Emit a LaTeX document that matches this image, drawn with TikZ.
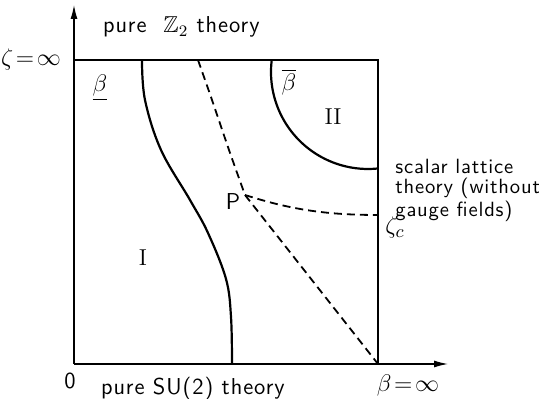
\documentclass[tikz,border=0pt]{standalone}
\usepackage{amsmath,amssymb}
\usepackage{fontspec}
\setsansfont{Latin Modern Sans}[LetterSpace=4]
\usetikzlibrary{arrows.meta}

\begin{document}
\begin{tikzpicture}[every node/.style={font=\fontsize{11.5}{13}\selectfont\sffamily}, x=0.5pt, y=0.5pt,
	line/.style={line width=1.1pt}, crossover/.style={line width=0.9pt, dash pattern=on 4pt off 2.5pt}]
	\useasboundingbox (-74,-35) rectangle (465,364);
	% axes and frame
	\draw[line width=0.6pt, -{Latex[length=7pt, width=3.5pt]}] (0,0) -- (374,0);
	\draw[line width=0.6pt, -{Latex[length=7pt, width=3.5pt]}] (0,0) -- (0,359);
	\draw[line width=0.6pt] (0,304) -- (304,304) -- (304,0);
	% phase boundaries
	\draw[line] plot[smooth, tension=0.6] coordinates {(68,304) (71,264) (87,214) (116,164) (134,131) (152,85) (157,47) (158,0)};
	\draw[line] (294,292) ++(173:97) arc[start angle=173, end angle=276, radius=97];
	\coordinate (P) at (171,169);
	\draw[crossover] plot[smooth, tension=0.6] coordinates {(124,304) (138,264) (155,214) (P)};
	\draw[crossover] (P) -- (304,0);
	\draw[crossover] (P) .. controls (215,155) and (250,149) .. (304,149);
	% labels
	\node[anchor=west] (ztwo) at (22,337) {pure \ $\mathbb{Z}_2$ theory};
	\node[anchor=east, font=\fontsize{12.5}{14}\selectfont] (zinf) at (-6,304) {$\zeta\!=\!\infty$};
	\node (orig) at (-4,-17) {0};
	\node[anchor=west] (su2) at (20,-25) {pure SU(2) theory};
	\node[font=\fontsize{12.5}{14}\selectfont] (binf) at (334,-22) {$\beta\!=\!\infty$};
	\node[font=\fontsize{12.5}{14}\selectfont] (blow) at (26,276) {$\underline{\beta}$};
	\node[font=\fontsize{12.5}{14}\selectfont] (bup) at (215,282) {$\overline{\beta}$};
	\node (II) at (259,247) {\rmfamily II};
	\node (I) at (69,106) {\rmfamily I};
	\node (Plab) at (159,162) {P};
	\node[anchor=north west, align=left, inner sep=0pt, font=\fontsize{10.3}{10}\selectfont\sffamily] (scal) at (321,205) {scalar lattice\\theory (without\\gauge fields)};
	\node[font=\fontsize{12.5}{14}\selectfont] (zc) at (321,136) {$\zeta_c$};
\end{tikzpicture}
\end{document}
